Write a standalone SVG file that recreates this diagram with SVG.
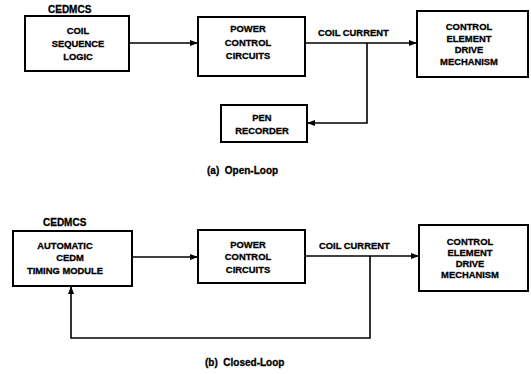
<svg xmlns="http://www.w3.org/2000/svg" width="531" height="374" viewBox="0 0 531 374">
<style>
.box{fill:#fff;stroke:#000;stroke-width:2}
.t{font-family:"Liberation Sans",Arial,sans-serif;font-weight:bold;font-size:9.4px;fill:#000;stroke:#000;stroke-width:0.3;text-anchor:middle}
.l{text-anchor:start}
.cap{font-size:10px}
.hd{font-size:10px}
.c{fill:none;stroke:#000;stroke-width:1.6}
</style>
<defs>
<marker id="ah" markerWidth="8" markerHeight="6" refX="7" refY="3" orient="auto" markerUnits="userSpaceOnUse">
<path d="M0,0 L8,3 L0,6 Z" fill="#000"/>
</marker>
</defs>
<rect width="531" height="374" fill="#fff"/>
<g id="connectors">
<line class="c" x1="129" y1="43" x2="197" y2="43" marker-end="url(#ah)"/>
<line class="c" x1="305" y1="43" x2="416" y2="43" marker-end="url(#ah)"/>
<polyline class="c" points="367,43 367,123 308,123" marker-end="url(#ah)"/>
<line class="c" x1="132" y1="257" x2="197" y2="257" marker-end="url(#ah)"/>
<line class="c" x1="305" y1="256" x2="418" y2="256" marker-end="url(#ah)"/>
<polyline class="c" points="370,256 370,338 71,338 71,287" marker-end="url(#ah)"/>
</g>
<g id="label-cedmcs-a"><text class="t l hd" x="48" y="13">CEDMCS</text></g>
<g id="coil-seq">
<rect class="box" x="25" y="16" width="104" height="55"/>
<text class="t" x="78" y="34">COIL</text>
<text class="t" x="78" y="47">SEQUENCE</text>
<text class="t" x="78" y="60">LOGIC</text>
</g>
<g id="power-a">
<rect class="box" x="198" y="17" width="107" height="59"/>
<text class="t" x="248" y="32">POWER</text>
<text class="t" x="248" y="46">CONTROL</text>
<text class="t" x="248" y="59">CIRCUITS</text>
</g>
<g id="label-coil-a"><text class="t l" x="318" y="36">COIL CURRENT</text></g>
<g id="cedm-a">
<rect class="box" x="417" y="11" width="111" height="66"/>
<text class="t" x="469" y="30">CONTROL</text>
<text class="t" x="469" y="42">ELEMENT</text>
<text class="t" x="469" y="53">DRIVE</text>
<text class="t" x="469" y="65">MECHANISM</text>
</g>
<g id="pen">
<rect class="box" x="221" y="105" width="86" height="37"/>
<text class="t" x="262" y="121">PEN</text>
<text class="t" x="262" y="134">RECORDER</text>
</g>
<g id="caption-a"><text class="t l cap" x="207" y="174" xml:space="preserve">(a)  Open-Loop</text></g>
<g id="label-cedmcs-b"><text class="t l hd" x="43" y="226">CEDMCS</text></g>
<g id="auto">
<rect class="box" x="13" y="231" width="119" height="55"/>
<text class="t" x="65" y="249">AUTOMATIC</text>
<text class="t" x="70" y="261">CEDM</text>
<text class="t" x="65" y="274">TIMING MODULE</text>
</g>
<g id="power-b">
<rect class="box" x="198" y="230" width="107" height="53"/>
<text class="t" x="248" y="248">POWER</text>
<text class="t" x="248" y="260">CONTROL</text>
<text class="t" x="248" y="273">CIRCUITS</text>
</g>
<g id="label-coil-b"><text class="t l" x="319" y="249">COIL CURRENT</text></g>
<g id="cedm-b">
<rect class="box" x="419" y="225" width="109" height="66"/>
<text class="t" x="470" y="245">CONTROL</text>
<text class="t" x="470" y="256">ELEMENT</text>
<text class="t" x="470" y="267">DRIVE</text>
<text class="t" x="470" y="278">MECHANISM</text>
</g>
<g id="caption-b"><text class="t l cap" x="205" y="366" xml:space="preserve">(b)  Closed-Loop</text></g>
</svg>
